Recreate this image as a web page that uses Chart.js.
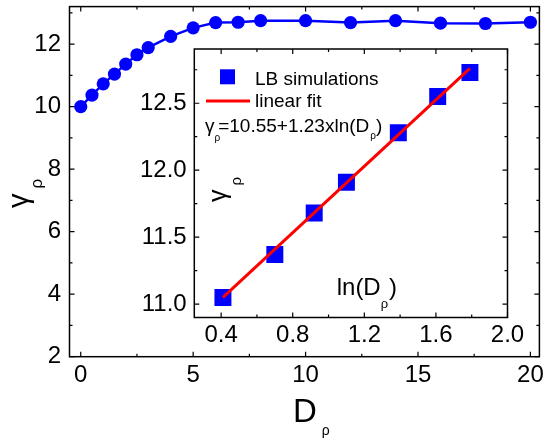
<!DOCTYPE html>
<html lang="en">
  <head>
    <meta charset="UTF-8" />
    <title>gamma vs D</title>
    <script src="https://cdn.jsdelivr.net/npm/chart.js@4.4.0/dist/chart.umd.min.js"></script>
    <style>
      html,
      body {
        margin: 0;
        padding: 0;
        background: #fff;
      }
      .wrap {
        position: relative;
        width: 546px;
        height: 444px;
      }
      .wrap canvas {
        position: absolute;
        left: 0;
        top: 0;
      }
    </style>
  </head>
  <body>
    <div class="wrap">
      <canvas id="mainChart" width="546" height="444"></canvas>
      <canvas id="insetChart" width="546" height="444"></canvas>
    </div>

    <script>
      // main plot: gamma_rho vs D_rho
      const D = [0, 0.5, 1, 1.5, 2, 2.5, 3, 4, 5, 6, 7, 8, 10, 12, 14, 16, 18, 20];
      const gamma = [10.0, 10.37, 10.73, 11.04, 11.36, 11.66, 11.89, 12.25, 12.52, 12.69, 12.7, 12.75, 12.75, 12.69, 12.75, 12.67, 12.66, 12.7];
      const mainXTicks = [0, 5, 10, 15, 20];
      const mainXMinor = [2.5, 7.5, 12.5, 17.5];
      const mainYTicks = [2, 4, 6, 8, 10, 12];
      const mainYMinor = [3, 5, 7, 9, 11, 13];

      // inset: gamma_rho vs ln(D_rho)
      const lnD = [0.41, 0.7, 0.92, 1.1, 1.39, 1.61, 1.79];
      const lbGamma = [11.05, 11.37, 11.68, 11.91, 12.28, 12.55, 12.73];
      const fitX = [0.41, 1.79];
      const fitY = [11.05, 12.76];
      const insetXTicks = [0.4, 0.8, 1.2, 1.6, 2.0];
      const insetXMinor = [0.6, 1.0, 1.4, 1.8];
      const insetYTicks = [11.0, 11.5, 12.0, 12.5];
      const insetYMinor = [11.25, 11.75, 12.25, 12.75];

      const FONT = '"Liberation Sans", Arial, sans-serif';
      const BLUE = '#0000ff';
      const RED = '#ff0000';

      Chart.defaults.font.family = FONT;
      Chart.defaults.color = '#000';

      // frame on all four sides with inward ticks
      const frameTicks = {
        id: 'frameTicks',
        afterDatasetsDraw(chart, args, o) {
          const { ctx, chartArea: a } = chart;
          const x = chart.scales.x, y = chart.scales.y;
          ctx.save();
          ctx.strokeStyle = '#000';
          ctx.lineWidth = 1.2;
          ctx.beginPath();
          const xt = (vals, len) => vals.forEach((v) => {
            const p = x.getPixelForValue(v);
            ctx.moveTo(p, a.bottom); ctx.lineTo(p, a.bottom - len);
            ctx.moveTo(p, a.top); ctx.lineTo(p, a.top + len);
          });
          const yt = (vals, len) => vals.forEach((v) => {
            const p = y.getPixelForValue(v);
            ctx.moveTo(a.left, p); ctx.lineTo(a.left + len, p);
            ctx.moveTo(a.right, p); ctx.lineTo(a.right - len, p);
          });
          xt(o.xMajor, 5); xt(o.xMinor, 3);
          yt(o.yMajor, 5); yt(o.yMinor, 3);
          ctx.stroke();
          ctx.lineWidth = 1.5;
          ctx.strokeRect(a.left, a.top, a.right - a.left, a.bottom - a.top);
          ctx.restore();
        },
      };

      // text pieces with subscripts: [text, size, dx, dy]
      function drawParts(ctx, parts) {
        let cx = 0;
        parts.forEach(([t, size, dx, dy]) => {
          ctx.font = size + 'px ' + FONT;
          cx += dx;
          ctx.fillText(t, cx, dy);
          cx += ctx.measureText(t).width;
        });
      }

      const mainTitles = {
        id: 'mainTitles',
        afterDraw(chart) {
          const { ctx, chartArea: a } = chart;
          const cx = (a.left + a.right) / 2;
          ctx.save();
          ctx.fillStyle = '#000';
          ctx.textBaseline = 'alphabetic';
          ctx.textAlign = 'left';
          // x title
          ctx.save();
          ctx.translate(cx - 11.5, a.bottom + 65.3);
          drawParts(ctx, [['D', 33, 0, 0], ['ρ', 14, 5, 13]]);
          ctx.restore();
          // y title
          ctx.save();
          ctx.translate(28, 208);
          ctx.rotate(-Math.PI / 2);
          drawParts(ctx, [['γ', 29, 0, 0], ['ρ', 17, 5, 14]]);
          ctx.restore();
          ctx.restore();
        },
      };

      const insetDecor = {
        id: 'insetDecor',
        beforeDraw(chart) {
          const { ctx, chartArea: a } = chart;
          ctx.save();
          ctx.fillStyle = '#fff';
          ctx.fillRect(a.left, a.top, a.right - a.left, a.bottom - a.top);
          ctx.restore();
        },
        afterDraw(chart) {
          const { ctx, chartArea: a } = chart;
          const ds = chart.data.datasets;
          ctx.save();
          ctx.fillStyle = '#000';
          ctx.textBaseline = 'alphabetic';
          ctx.textAlign = 'left';
          // legend
          ctx.fillStyle = BLUE;
          ctx.fillRect(a.left + 25.7, a.top + 20.3, 15, 15);
          ctx.strokeStyle = RED;
          ctx.lineWidth = 3;
          ctx.beginPath();
          ctx.moveTo(a.left + 11.7, a.top + 52);
          ctx.lineTo(a.left + 55.7, a.top + 52);
          ctx.stroke();
          ctx.fillStyle = '#000';
          ctx.font = '19px ' + FONT;
          ctx.fillText(ds[1].label, a.left + 60.7, a.top + 36);
          ctx.fillText(ds[0].label, a.left + 60.7, a.top + 58.3);
          // fit formula
          ctx.save();
          ctx.translate(a.left + 10.7, a.top + 82.7);
          drawParts(ctx, [['γ', 19, 0, 0], ['ρ', 10, 0, 9], ['=10.55+1.23xln(D', 19, -2, 0], ['ρ', 10, 1, 7], [')', 19, 0, 0]]);
          ctx.restore();
          // x title
          ctx.save();
          ctx.translate(a.left + 142.4, a.top + 246);
          drawParts(ctx, [['ln(D', 24, 0, 0], ['ρ', 13, 0, 13], [')', 24, 1, 0]]);
          ctx.restore();
          // y title
          ctx.save();
          ctx.translate(a.left + 31.2, a.top + 153);
          ctx.rotate(-Math.PI / 2);
          drawParts(ctx, [['γ', 25, 0, 0], ['ρ', 15, 4, 15.5]]);
          ctx.restore();
          ctx.restore();
        },
      };

      const setTicks = (vals) => (s) => {
        s.ticks = vals.map((v) => ({ value: v }));
      };

      new Chart(document.getElementById('mainChart'), {
        type: 'scatter',
        data: {
          datasets: [
            {
              data: D.map((d, i) => ({ x: d, y: gamma[i] })),
              showLine: true,
              borderColor: BLUE,
              borderWidth: 2.5,
              backgroundColor: BLUE,
              pointBackgroundColor: BLUE,
              pointBorderColor: BLUE,
              pointBorderWidth: 0,
              pointRadius: 6.6,
            },
          ],
        },
        options: {
          responsive: false,
          animation: false,
          devicePixelRatio: 1,
          events: [],
          layout: { padding: { left: 0, top: 4.7, right: 6.5, bottom: 0 } },
          plugins: {
            legend: { display: false },
            tooltip: { enabled: false },
            frameTicks: { xMajor: mainXTicks, xMinor: mainXMinor, yMajor: mainYTicks, yMinor: mainYMinor },
          },
          scales: {
            x: {
              type: 'linear',
              min: -0.5,
              max: 20.4,
              afterBuildTicks: setTicks(mainXTicks),
              afterFit: (s) => {
                s.height = 87.3;
                s.paddingLeft = 0;
                s.paddingRight = 0;
              },
              ticks: { font: { size: 24 }, padding: 4.5, maxRotation: 0, autoSkip: false },
              grid: { display: false, drawTicks: false },
              border: { display: false },
            },
            y: {
              type: 'linear',
              min: 2,
              max: 13.2,
              afterBuildTicks: setTicks(mainYTicks),
              afterFit: (s) => {
                s.width = 69.5;
                s.paddingTop = 0;
                s.paddingBottom = 0;
              },
              ticks: { font: { size: 24 }, padding: 8.5, autoSkip: false },
              grid: { display: false, drawTicks: false },
              border: { display: false },
            },
          },
        },
        plugins: [frameTicks, mainTitles],
      });

      new Chart(document.getElementById('insetChart'), {
        type: 'scatter',
        data: {
          datasets: [
            {
              label: 'linear fit',
              data: fitX.map((v, i) => ({ x: v, y: fitY[i] })),
              showLine: true,
              borderColor: RED,
              borderWidth: 3,
              pointRadius: 0,
              order: 0,
            },
            {
              label: 'LB simulations',
              data: lnD.map((v, i) => ({ x: v, y: lbGamma[i] })),
              pointStyle: 'rect',
              pointRadius: 12,
              pointBorderWidth: 0,
              pointBackgroundColor: BLUE,
              pointBorderColor: BLUE,
              order: 1,
            },
          ],
        },
        options: {
          responsive: false,
          animation: false,
          devicePixelRatio: 1,
          events: [],
          layout: { padding: { left: 100, top: 49, right: 38.5, bottom: 0 } },
          plugins: {
            legend: { display: false },
            tooltip: { enabled: false },
            frameTicks: { xMajor: insetXTicks, xMinor: insetXMinor, yMajor: insetYTicks, yMinor: insetYMinor },
          },
          scales: {
            x: {
              type: 'linear',
              min: 0.25,
              max: 2.0,
              afterBuildTicks: setTicks(insetXTicks),
              afterFit: (s) => {
                s.height = 126.5;
                s.paddingLeft = 0;
                s.paddingRight = 0;
              },
              ticks: { font: { size: 24 }, padding: 3, maxRotation: 0, autoSkip: false, callback: (v) => v.toFixed(1) },
              grid: { display: false, drawTicks: false },
              border: { display: false },
            },
            y: {
              type: 'linear',
              min: 10.9,
              max: 12.905,
              afterBuildTicks: setTicks(insetYTicks),
              afterFit: (s) => {
                s.width = 94.3;
                s.paddingTop = 0;
                s.paddingBottom = 0;
              },
              ticks: { font: { size: 24 }, padding: 7.6, autoSkip: false, callback: (v) => v.toFixed(1) },
              grid: { display: false, drawTicks: false },
              border: { display: false },
            },
          },
        },
        plugins: [insetDecor, frameTicks],
      });
    </script>
  </body>
</html>
